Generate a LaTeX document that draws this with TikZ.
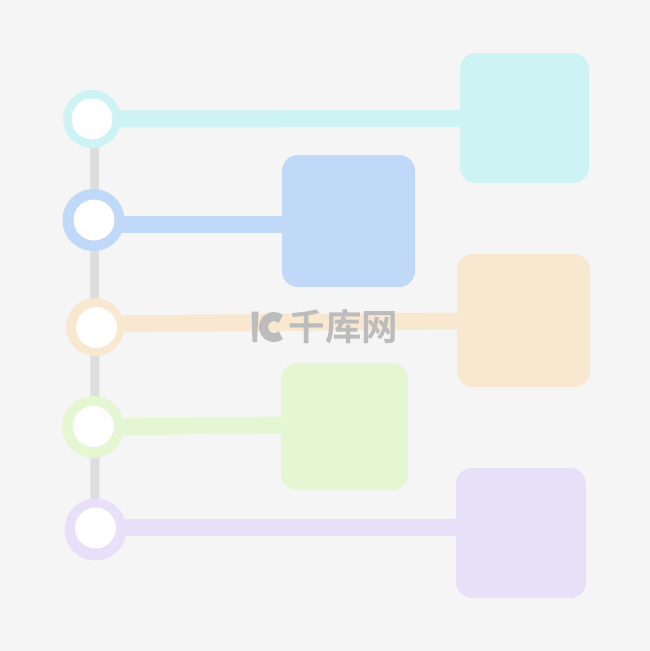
\documentclass[tikz,border=0pt]{standalone}
\usepackage{fontspec}
\newfontfamily\cjk{Noto Sans CJK SC Bold}
\usetikzlibrary{calc}
\definecolor{bgc}{HTML}{F5F5F5}
\definecolor{spine}{HTML}{DEDEDE}
\definecolor{ccyan}{HTML}{CDF3F5}
\definecolor{cblue}{HTML}{C0D9F8}
\definecolor{corange}{HTML}{F9E8D0}
\definecolor{cgreen}{HTML}{E4F6D2}
\definecolor{cpurple}{HTML}{E8DFF8}
\definecolor{wmark}{HTML}{BCBCBC}
\pgfdeclarelayer{bg}
\pgfsetlayers{bg,main}
\tikzset{
  ring/.style={circle, inner sep=0pt, minimum size=#1},
  hole/.style={circle, fill=white, inner sep=0pt, minimum size=41pt},
  card/.style={rounded corners=16pt, inner sep=0pt},
  bar/.style={line width=17pt},
  spineline/.style={draw=spine, line width=9pt},
  wm/.style={text=wmark, font=\cjk\fontsize{36.5}{36.5}\selectfont, inner sep=0pt},
}
\begin{document}
\begin{tikzpicture}[x=1pt,y=-1pt]
\useasboundingbox (0,0) rectangle (650,651);
\begin{pgfonlayer}{bg}
\fill[bgc] (0,0) rectangle (650,651);
\end{pgfonlayer}
% rings (outer)
\node[ring=58pt, fill=ccyan]   (c1) at (92,119) {};
\node[ring=62pt, fill=cblue]   (c2) at (93.5,220) {};
\node[ring=58pt, fill=corange] (c3) at (95,327) {};
\node[ring=62pt, fill=cgreen]  (c4) at (93,427) {};
\node[ring=62pt, fill=cpurple] (c5) at (95.5,529.5) {};
% white centres
\node[hole] (h1) at (92,119) {};
\node[hole] (h2) at (94,220) {};
\node[hole] (h3) at (96.5,327.5) {};
\node[hole] (h4) at (93.3,426.5) {};
\node[hole] (h5) at (95.5,528) {};
% cards
\node[card, fill=ccyan,   minimum width=129pt, minimum height=130pt] (s1) at (524.5,118) {};
\node[card, fill=cblue,   minimum width=133pt, minimum height=132pt] (s2) at (348.5,221) {};
\node[card, fill=corange, minimum width=133pt, minimum height=133pt] (s3) at (523.5,320.5) {};
\node[card, fill=cgreen,  minimum width=127pt, minimum height=127pt] (s4) at (344.5,426.5) {};
\node[card, fill=cpurple, minimum width=130pt, minimum height=130pt] (s5) at (521,533) {};
% spine and bars behind
\begin{pgfonlayer}{bg}
\draw[spineline] ($(c1.center)+(2.5,0)$) -- ($(c5.center)+(-0.5,0)$);
\draw[bar, draw=ccyan]   (c1.center) -- ($(s1.west)+(2,0.5)$);
\draw[bar, draw=cblue]   ($(c2.center)+(0,4)$) -- ($(s2.west)+(2,3)$);
\draw[bar, draw=corange] ($(c3.center)+(0,-3)$) -- ($(s3.west)+(2,0.5)$);
\draw[bar, draw=cgreen]  (c4.center) -- ($(s4.west)+(2,-1.5)$);
\draw[bar, draw=cpurple] ($(c5.center)+(0,-2)$) -- ($(s5.west)+(2,-5.5)$);
\end{pgfonlayer}
% watermark
\fill[wmark] (251.5,311.5) -- (258.5,311.5) -- (257,342) -- (252.5,342) -- cycle;
\draw[wmark, line width=9pt] (280.7,319) arc[start angle=-50, end angle=-310, radius=10.5];
\node[wm] (wm) at (343.5,327) {千库网};
\end{tikzpicture}
\end{document}
